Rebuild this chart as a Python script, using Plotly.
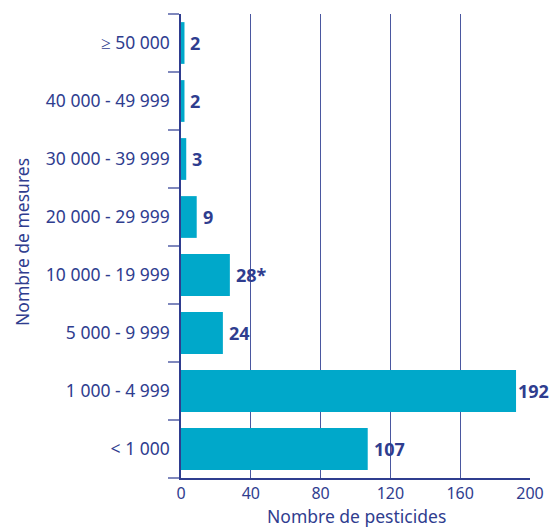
import plotly.graph_objects as go

# Classes of measurement counts (bottom to top) and number of pesticides per class
categories = ["< 1 000", "1 000 - 4 999", "5 000 - 9 999", "10 000 - 19 999",
              "20 000 - 29 999", "30 000 - 39 999", "40 000 - 49 999", "≥ 50 000"]
pesticides = [107, 192, 24, 28, 9, 3, 2, 2]
value_labels = ["107", "192", "24", "28*", "9", "3", "2", "2"]
x_ticks = [0, 40, 80, 120, 160, 200]

NAVY = "#2f3d8f"
TEAL = "#00a8ca"
FONT = "Noto Sans"

W, H = 554, 529
M_L, M_R, M_T, M_B = 181, 24, 14, 51
X_MAX = 200
plot_w = W - M_L - M_R
plot_h = H - M_T - M_B


def px_to_paper_x(px):
    return (px - M_L) / plot_w


def px_to_paper_y(py):
    return (H - M_B - py) / plot_h


fig = go.Figure(go.Bar(
    x=pesticides,
    y=categories,
    orientation="h",
    marker=dict(color=TEAL, line=dict(width=0)),
    width=0.72,
    hoverinfo="skip",
))

# value labels to the right of each bar; pulled in slightly when near the page edge
value_annotations = []
for cat, val, lab in zip(categories, pesticides, value_labels):
    bar_end_px = M_L + val / X_MAX * plot_w
    est_width = 11 * len(lab)
    shift = 4 if bar_end_px + 8 + est_width < W else 0
    value_annotations.append(dict(
        x=val, y=cat, xref="x", yref="y", text=lab,
        xanchor="left", yanchor="middle", xshift=shift, showarrow=False,
        font=dict(family=FONT, size=18, color=NAVY, weight="bold"),
    ))

fig.update_layout(
    width=W, height=H,
    margin=dict(l=M_L, r=M_R, t=M_T, b=M_B),
    paper_bgcolor="white", plot_bgcolor="white",
    showlegend=False,
    font=dict(family=FONT, color=NAVY, size=16),
    annotations=value_annotations + [
        dict(text="Nombre de pesticides", xref="paper", yref="paper",
             x=px_to_paper_x(356), y=px_to_paper_y(516),
             xanchor="center", yanchor="middle", showarrow=False,
             font=dict(family=FONT, size=17.5, color=NAVY)),
        dict(text="Nombre de mesures", xref="paper", yref="paper",
             x=px_to_paper_x(22), y=px_to_paper_y(242), textangle=-90,
             xanchor="center", yanchor="middle", showarrow=False,
             font=dict(family=FONT, size=17.5, color=NAVY)),
    ],
)

fig.update_xaxes(
    range=[0, X_MAX],
    tickvals=x_ticks,
    ticks="",
    showgrid=True, gridcolor="#4a57a0", gridwidth=1,
    zeroline=False,
    showline=True, linecolor=NAVY, linewidth=1.5,
    tickfont=dict(family=FONT, size=16, color=NAVY),
    automargin=False,
    fixedrange=True,
)

fig.update_yaxes(
    type="category",
    categoryorder="array", categoryarray=categories,
    range=[-0.5, 7.5],
    ticks="outside", tickson="boundaries", ticklen=11, tickwidth=1.5, tickcolor="#7f88bd",
    ticklabelstandoff=6,
    showgrid=False, zeroline=False,
    showline=True, linecolor=NAVY, linewidth=1.5,
    tickfont=dict(family=FONT, size=17.5, color=NAVY),
    automargin=False,
    fixedrange=True,
)

fig.write_html("out.html")
